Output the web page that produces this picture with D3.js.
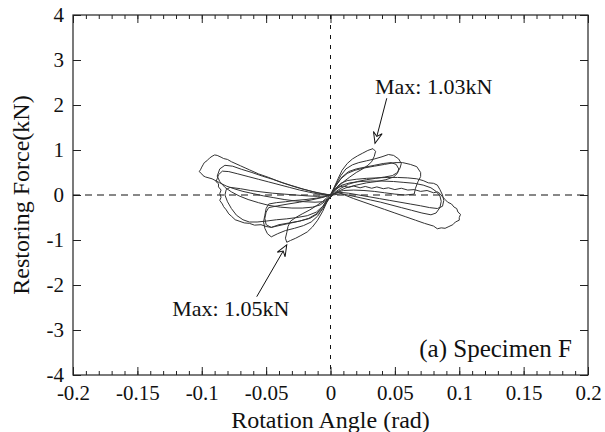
<!DOCTYPE html>
<html>
<head>
<meta charset="utf-8">
<script src="https://cdn.jsdelivr.net/npm/d3@7"></script>
<style>
  body { margin: 0; background: #fff; }
  svg text { font-family: "Liberation Serif", "Times New Roman", serif; fill: #111; }
  .tick text { font-size: 21px; }
  .label_title { font-size: 24px; }
  .note { font-size: 22px; }
</style>
</head>
<body>
<svg id="chart" width="605" height="432"></svg>
<script>
// tick labels
let x_ticks = [-0.2, -0.15, -0.1, -0.05, 0, 0.05, 0.1, 0.15, 0.2]
let y_ticks = [-4, -3, -2, -1, 0, 1, 2, 3, 4]

// hysteresis cycles: [rotation (rad), force (kN)]
let cycle1 = [
  [0,0],[0.003,0.18],[0.006,0.37],[0.009,0.55],[0.013,0.7],[0.017,0.8],[0.021,0.87],[0.025,0.93],[0.029,0.99],[0.033,1.03],
  [0.035,0.97],[0.034,0.86],[0.032,0.74],[0.029,0.66],[0.025,0.58],[0.02,0.5],[0.015,0.4],[0.01,0.29],[0.005,0.15],[0.001,0.02],
  [-0.003,-0.17],[-0.006,-0.36],[-0.01,-0.56],[-0.014,-0.71],[-0.018,-0.82],[-0.023,-0.9],[-0.027,-0.96],[-0.031,-1.01],[-0.034,-1.05],
  [-0.035,-0.96],[-0.034,-0.84],[-0.033,-0.7],[-0.031,-0.58],[-0.027,-0.5],[-0.022,-0.42],[-0.016,-0.33],[-0.011,-0.24],[-0.006,-0.14],[-0.002,-0.04],[0,0]
]
let cycle2 = [
  [0,0],[0.004,0.22],[0.008,0.43],[0.012,0.58],[0.017,0.67],[0.022,0.72],[0.028,0.76],[0.034,0.8],[0.04,0.85],[0.045,0.9],[0.049,0.88],
  [0.053,0.8],[0.055,0.7],[0.054,0.6],[0.052,0.5],[0.048,0.43],[0.042,0.4],[0.035,0.37],[0.028,0.34],[0.021,0.3],[0.014,0.24],[0.008,0.15],[0.003,0.05],
  [-0.002,-0.1],[-0.006,-0.3],[-0.01,-0.47],[-0.015,-0.6],[-0.021,-0.68],[-0.028,-0.74],[-0.035,-0.79],[-0.041,-0.86],[-0.046,-0.93],
  [-0.049,-0.86],[-0.051,-0.74],[-0.052,-0.6],[-0.051,-0.45],[-0.05,-0.3],[-0.048,-0.2],[-0.042,-0.17],[-0.035,-0.15],[-0.027,-0.12],
  [-0.019,-0.1],[-0.011,-0.07],[-0.005,-0.04],[0,0]
]
let cycle2b = [
  [0,0],[0.004,0.2],[0.009,0.4],[0.014,0.52],[0.02,0.58],[0.027,0.62],[0.034,0.66],[0.041,0.7],[0.047,0.72],[0.051,0.68],[0.053,0.58],
  [0.052,0.48],[0.049,0.4],[0.043,0.34],[0.036,0.3],[0.028,0.27],[0.02,0.22],[0.012,0.16],[0.005,0.07],
  [-0.002,-0.08],[-0.006,-0.26],[-0.011,-0.42],[-0.017,-0.52],[-0.024,-0.58],[-0.032,-0.63],[-0.04,-0.68],[-0.046,-0.72],[-0.05,-0.66],
  [-0.051,-0.52],[-0.05,-0.38],[-0.048,-0.28],[-0.041,-0.24],[-0.033,-0.2],[-0.024,-0.16],[-0.015,-0.11],[-0.007,-0.06],[0,0]
]
let cycle3 = [
  [0,0],[0.004,0.2],[0.008,0.36],[0.013,0.48],[0.019,0.55],[0.026,0.6],[0.034,0.64],[0.042,0.68],[0.05,0.72],[0.056,0.72],[0.062,0.68],
  [0.067,0.63],[0.07,0.5],[0.07,0.41],[0.068,0.3],[0.066,0.15],[0.065,0.02],[0.058,0.0],[0.05,0.02],[0.042,0.05],[0.034,0.08],
  [0.026,0.1],[0.018,0.11],[0.01,0.1],[0.004,0.05],
  [-0.002,-0.08],[-0.006,-0.25],[-0.011,-0.38],[-0.018,-0.46],[-0.026,-0.5],[-0.034,-0.53],[-0.042,-0.55],[-0.05,-0.58],[-0.057,-0.6],
  [-0.063,-0.6],[-0.068,-0.55],[-0.073,-0.45],[-0.077,-0.3],[-0.08,-0.15],[-0.082,0.0],[-0.081,0.12],[-0.078,0.17],[-0.07,0.14],
  [-0.062,0.1],[-0.054,0.07],[-0.045,0.04],[-0.036,0.02],[-0.027,0.0],[-0.018,-0.02],[-0.01,-0.03],[-0.004,-0.02],[0,0]
]
let cycle4 = [
  [0,0],[0.004,0.15],[0.008,0.26],[0.013,0.32],[0.02,0.35],[0.028,0.37],[0.036,0.38],[0.044,0.39],[0.052,0.39],[0.06,0.38],
  [0.067,0.36],[0.072,0.32],[0.076,0.27],[0.08,0.26],[0.083,0.22],[0.085,0.12],[0.087,0.0],[0.088,-0.12],[0.087,-0.25],
  [0.083,-0.3],[0.077,-0.28],[0.07,-0.24],[0.062,-0.2],[0.054,-0.16],[0.046,-0.12],[0.038,-0.08],[0.03,-0.04],[0.022,0.0],
  [0.014,0.04],[0.007,0.06],[0.002,0.02],
  [-0.002,-0.12],[-0.006,-0.3],[-0.01,-0.42],[-0.016,-0.52],[-0.024,-0.58],[-0.032,-0.62],[-0.04,-0.66],[-0.046,-0.72],[-0.05,-0.7],
  [-0.054,-0.66],[-0.059,-0.67],[-0.063,-0.63],[-0.067,-0.62],[-0.071,-0.58],[-0.074,-0.55],[-0.077,-0.47],[-0.079,-0.42],
  [-0.081,-0.33],[-0.083,-0.26],[-0.084,-0.2],[-0.086,-0.12],[-0.085,-0.05],[-0.086,0.03],[-0.085,0.11],[-0.087,0.18],
  [-0.087,0.25],[-0.089,0.3],[-0.088,0.36],[-0.087,0.45],[-0.084,0.53],[-0.079,0.52],[-0.072,0.47],[-0.064,0.41],[-0.056,0.35],
  [-0.048,0.29],[-0.04,0.23],[-0.032,0.17],[-0.024,0.11],[-0.016,0.06],[-0.009,0.02],[-0.003,0.0],[0,0]
]
let cycle4b = [
  [0,0],[0.004,0.12],[0.009,0.22],[0.015,0.27],[0.023,0.3],[0.031,0.31],[0.04,0.31],[0.049,0.3],[0.057,0.28],[0.065,0.26],
  [0.072,0.22],[0.078,0.16],[0.082,0.08],[0.085,-0.02],[0.086,-0.14],[0.085,-0.28],[0.082,-0.4],[0.078,-0.44],[0.071,-0.4],
  [0.063,-0.34],[0.055,-0.28],[0.047,-0.22],[0.039,-0.16],[0.031,-0.11],[0.023,-0.06],[0.015,-0.01],[0.008,0.03],[0.002,0.0],
  [-0.003,-0.12],[-0.008,-0.22],[-0.014,-0.27],[-0.022,-0.29],[-0.03,-0.29],[-0.039,-0.27],[-0.048,-0.23],[-0.056,-0.17],
  [-0.064,-0.1],[-0.071,-0.02],[-0.077,0.07],[-0.082,0.17],[-0.086,0.3],[-0.088,0.42],[-0.086,0.58],[-0.082,0.66],[-0.076,0.64],
  [-0.069,0.57],[-0.061,0.5],[-0.053,0.42],[-0.045,0.35],[-0.037,0.27],[-0.029,0.2],[-0.021,0.13],[-0.013,0.07],[-0.006,0.03],[0,0]
]
let cycle5 = [
  [0,0],[0.003,0.12],[0.007,0.18],[0.01,0.2],[0.014,0.17],[0.018,0.2],[0.023,0.16],[0.027,0.19],[0.032,0.15],[0.036,0.18],
  [0.041,0.14],[0.045,0.16],[0.05,0.12],[0.055,0.15],[0.06,0.11],[0.065,0.12],[0.07,0.08],[0.075,0.1],[0.08,0.05],[0.083,0.07],
  [0.085,0.03],[0.087,-0.04],[0.089,-0.1],[0.091,-0.16],[0.094,-0.2],[0.096,-0.27],[0.098,-0.3],[0.099,-0.38],[0.101,-0.43],
  [0.1,-0.5],[0.1,-0.56],[0.097,-0.6],[0.095,-0.66],[0.092,-0.7],[0.089,-0.74],[0.086,-0.73],[0.083,-0.75],[0.08,-0.69],
  [0.073,-0.63],[0.066,-0.56],[0.058,-0.48],[0.05,-0.4],[0.042,-0.32],[0.034,-0.24],[0.026,-0.16],[0.018,-0.08],[0.011,0.0],
  [0.006,0.06],[0.002,0.02],
  [-0.002,-0.08],[-0.006,-0.15],[-0.012,-0.16],[-0.02,-0.15],[-0.028,-0.13],[-0.036,-0.1],[-0.044,-0.06],[-0.052,-0.02],
  [-0.06,0.03],[-0.068,0.08],[-0.075,0.14],[-0.081,0.2],[-0.086,0.27],[-0.092,0.36],[-0.097,0.4],[-0.099,0.43],[-0.1,0.47],
  [-0.102,0.52],[-0.101,0.56],[-0.1,0.62],[-0.099,0.67],[-0.098,0.72],[-0.096,0.76],[-0.094,0.82],[-0.092,0.86],[-0.09,0.89],
  [-0.088,0.88],[-0.085,0.84],[-0.083,0.81],[-0.08,0.79],[-0.077,0.74],[-0.07,0.65],[-0.063,0.56],[-0.056,0.47],
  [-0.048,0.39],[-0.04,0.3],[-0.032,0.22],[-0.024,0.15],[-0.016,0.09],[-0.009,0.04],[-0.003,0.01],[0,0]
]
let cycles = [cycle1, cycle2, cycle2b, cycle3, cycle4, cycle4b, cycle5]

// annotations: [text, text x, text y, arrow tail x, tail y, tip x, tip y]
let notes = [
  ["Max: 1.03kN", 0.0346, 2.24, 0.0437, 2.15, 0.0346, 1.15],
  ["Max: 1.05kN", -0.123, -2.69, -0.0573, -2.26, -0.034, -1.11]
]
let panel_label = "(a) Specimen F"

let width = 605,
    height = 432,
    margins = {left: 73, right: 17, top: 15, bottom: 57}

let svg = d3.select("#chart")

// d3 v7 has no .attrs, add a tiny one
d3.selection.prototype.attrs = function(obj) {
  for (let k in obj) this.attr(k, obj[k])
  return this
}

function make_scales() {
  return {
    x: d3.scaleLinear()
         .domain([-0.2, 0.2])
         .range([margins.left, width - margins.right]),
    y: d3.scaleLinear()
         .domain([-4, 4])
         .range([height - margins.bottom, margins.top])
  }
}

function fmt(d) {
  return d === 0 ? "0" : String(+d.toFixed(2))
}

function add_axes(scales) {
  let minor = d3.range(-20, 21).map(d => d / 100)
  let axes = svg.append("g").attr("id", "axes")

  // minor ticks on bottom / top
  axes.append("g")
    .attr("transform", `translate(0,${height - margins.bottom})`)
    .call(d3.axisBottom(scales.x).tickValues(minor).tickSize(-4).tickFormat(""))
  axes.append("g")
    .attr("transform", `translate(0,${margins.top})`)
    .call(d3.axisTop(scales.x).tickValues(minor).tickSize(-4).tickFormat(""))

  // major ticks
  axes.append("g")
    .attr("transform", `translate(0,${height - margins.bottom})`)
    .call(d3.axisBottom(scales.x).tickValues(x_ticks).tickSize(-8).tickPadding(10).tickFormat(fmt))
  axes.append("g")
    .attr("transform", `translate(0,${margins.top})`)
    .call(d3.axisTop(scales.x).tickValues(x_ticks).tickSize(-8).tickFormat(""))
  axes.append("g")
    .attr("transform", `translate(${margins.left},0)`)
    .call(d3.axisLeft(scales.y).tickValues(y_ticks).tickSize(-8).tickPadding(9).tickFormat(fmt))
  axes.append("g")
    .attr("transform", `translate(${width - margins.right},0)`)
    .call(d3.axisRight(scales.y).tickValues(y_ticks).tickSize(-8).tickFormat(""))

  axes.selectAll(".domain").remove()
  axes.selectAll(".tick line").attr("stroke", "#222")
  axes.selectAll(".tick text").attr("fill", "#111")

  axes.append("rect")
    .attrs({
      x: margins.left, y: margins.top,
      width: width - margins.left - margins.right,
      height: height - margins.top - margins.bottom,
      fill: "none", stroke: "#222", "stroke-width": 1.2
    })

  // zero lines
  axes.append("line")
    .attrs({
      x1: scales.x(-0.2), x2: scales.x(0.2), y1: scales.y(0), y2: scales.y(0),
      stroke: "#111", "stroke-dasharray": "7,5"
    })
  axes.append("line")
    .attrs({
      x1: scales.x(0), x2: scales.x(0), y1: scales.y(4), y2: scales.y(-4),
      stroke: "#111", "stroke-dasharray": "4,6"
    })

  axes.append("text")
    .text("Rotation Angle (rad)")
    .attrs({
      class: "label_title", "text-anchor": "middle",
      x: (margins.left + width - margins.right) / 2, y: 428
    })
  axes.append("text")
    .text("Restoring Force(kN)")
    .attrs({
      class: "label_title", "text-anchor": "middle",
      transform: `translate(29, ${scales.y(0)})rotate(-90)`
    })
}

function draw_cycles(scales) {
  let path_generator = d3.line()
    .x(d => scales.x(d[0]))
    .y(d => scales.y(d[1]))

  svg.append("g").attr("id", "series")
    .selectAll("path")
    .data(cycles).enter()
    .append("path")
    .attr("d", path_generator)
    .attr("fill", "none")
    .attr("stroke", "#333")
    .attr("stroke-width", 1)
}

function annotations(scales) {
  svg.append("defs").append("marker")
    .attrs({
      id: "arrow", viewBox: "-12 -6 14 12", refX: 0, refY: 0,
      markerWidth: 14, markerHeight: 12, markerUnits: "userSpaceOnUse", orient: "auto"
    })
    .append("path")
    .attrs({d: "M0,0 L-11,-4.5 L-7,0 L-11,4.5 Z", fill: "#fff", stroke: "#111", "stroke-width": 1})

  let g = svg.append("g").attr("id", "notes")
  g.selectAll("line")
    .data(notes).enter()
    .append("line")
    .attrs({
      x1: d => scales.x(d[3]), y1: d => scales.y(d[4]),
      x2: d => scales.x(d[5]), y2: d => scales.y(d[6]),
      stroke: "#111", "stroke-width": 1, "marker-end": "url(#arrow)"
    })
  g.selectAll("text")
    .data(notes).enter()
    .append("text")
    .text(d => d[0])
    .attrs({class: "note", x: d => scales.x(d[1]), y: d => scales.y(d[2])})

  g.append("text")
    .text(panel_label)
    .attrs({class: "label_title", "text-anchor": "end", x: 572, y: 357})
    .style("font-size", "25px")
}

let scales = make_scales()
add_axes(scales)
draw_cycles(scales)
annotations(scales)
</script>
</body>
</html>
